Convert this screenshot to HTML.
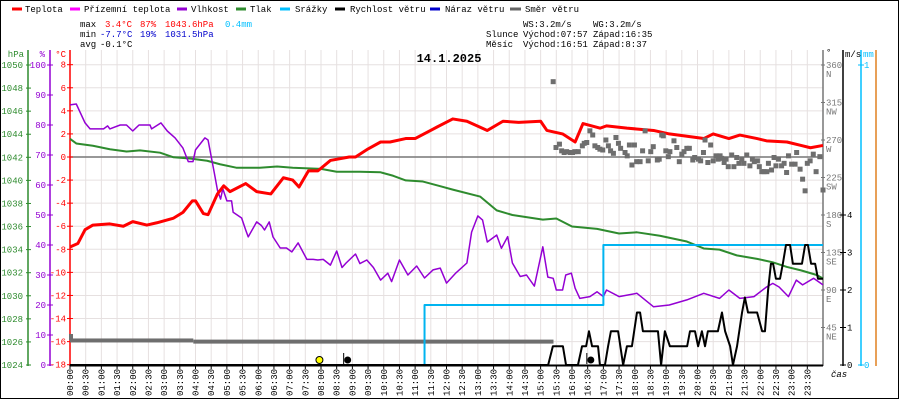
<!DOCTYPE html>
<html><head><meta charset="utf-8"><style>
html,body{margin:0;padding:0;background:#fff}
svg{display:block}
text{font-family:"Liberation Mono",monospace;font-size:9px}
</style></head><body>
<svg id="chart" width="900" height="400" viewBox="0 0 900 400" xmlns="http://www.w3.org/2000/svg">
<rect x="0.5" y="0.5" width="898" height="398" fill="#fff" stroke="#000"/>
<g id="grid"></g>
<g id="legend">
 <line x1="12" y1="9" x2="22" y2="9" stroke="#f00" stroke-width="3"/><text x="25" y="12">Teplota</text>
 <line x1="70" y1="9" x2="80" y2="9" stroke="#f0f" stroke-width="3"/><text x="84" y="12">Přízemní teplota</text>
 <line x1="177" y1="9" x2="187" y2="9" stroke="#9400d3" stroke-width="3"/><text x="191" y="12">Vlhkost</text>
 <line x1="236" y1="9" x2="246" y2="9" stroke="#2e8b2e" stroke-width="3"/><text x="250" y="12">Tlak</text>
 <line x1="280" y1="9" x2="290" y2="9" stroke="#00bfff" stroke-width="3"/><text x="295" y="12">Srážky</text>
 <line x1="335" y1="9" x2="345" y2="9" stroke="#000" stroke-width="3"/><text x="350" y="12">Rychlost větru</text>
 <line x1="430" y1="9" x2="440" y2="9" stroke="#00c" stroke-width="3"/><text x="445" y="12">Náraz větru</text>
 <line x1="510" y1="9" x2="521" y2="9" stroke="#666" stroke-width="3"/><text x="525" y="12">Směr větru</text>
</g>
<g id="stats">
 <text x="80" y="27">max</text><text x="105" y="27" fill="#f00">3.4°C</text><text x="140" y="27" fill="#f00">87%</text><text x="165" y="27" fill="#f00">1043.6hPa</text><text x="225" y="27" fill="#00bfff">0.4mm</text>
 <text x="80" y="37">min</text><text x="100" y="37" fill="#00c">-7.7°C</text><text x="140" y="37" fill="#00c">19%</text><text x="165" y="37" fill="#00c">1031.5hPa</text>
 <text x="80" y="47">avg</text><text x="100" y="47">-0.1°C</text>
 <text x="523" y="27">WS:3.2m/s</text><text x="593" y="27">WG:3.2m/s</text>
 <text x="486" y="37">Slunce</text><text x="523" y="37">Východ:07:57</text><text x="593" y="37">Západ:16:35</text>
 <text x="486" y="47">Měsíc</text><text x="523" y="47">Východ:16:51</text><text x="593" y="47">Západ:8:37</text>
</g>
<text x="449" y="62" text-anchor="middle" style="font-size:12px;font-weight:bold">14.1.2025</text>
<g id="axes"></g>
<g id="series"></g>
</svg>
<script>
// ---- data ----
const timeLabels=[];for(let i=0;i<48;i++){const h=Math.floor(i/2);timeLabels.push((h<10?'0':'')+h+(i%2?':30':':00'));}
const tempTicks=[8,6,4,2,0,-2,-4,-6,-8,-10,-12,-14,-16,-18];
const humTicks=[100,90,80,70,60,50,40,30,20,10,0];
const presTicks=[1050,1048,1046,1044,1042,1040,1038,1036,1034,1032,1030,1028,1026,1024];
const dirTicks=[360,315,270,225,180,135,90,45];
const dirNames=['N','NW','W','SW','S','SE','E','NE'];
const windTicks=[4,3,2,1,0];
const tempHours=[0,0.25,0.48,0.73,1.27,1.7,2.0,2.45,2.77,3.3,3.6,3.9,4.0,4.25,4.4,4.7,4.9,5.1,5.6,5.95,6.4,6.8,7.1,7.3,7.6,7.9,8.3,8.9,9.1,9.5,9.9,10.2,10.7,11.0,11.7,12.2,12.65,13.3,13.8,14.3,15.0,15.2,15.7,16.1,16.35,16.9,17.1,17.75,18.6,19.1,20.2,20.5,21.0,21.35,21.9,22.2,22.85,23.3,23.6,24];
const tempValues=[-7.8,-7.5,-6.3,-5.9,-5.8,-6.0,-5.6,-5.9,-5.7,-5.3,-4.8,-3.8,-3.8,-4.9,-5.0,-3.2,-2.5,-3.0,-2.3,-3.0,-3.2,-1.8,-2.0,-2.6,-1.2,-1.2,-0.3,0.0,0.0,0.7,1.3,1.3,1.6,1.6,2.6,3.3,3.1,2.3,3.1,3.0,3.1,2.3,2.0,1.3,2.9,2.5,2.7,2.5,2.3,2.0,1.6,2.0,1.6,1.9,1.6,1.4,1.3,1.0,0.8,1.0];
const humHours=[0,0.2,0.48,0.64,1.07,1.2,1.27,1.6,1.8,2.0,2.2,2.55,2.6,2.9,3.1,3.35,3.6,3.77,3.92,4.0,4.3,4.4,4.6,4.7,4.8,4.87,5.0,5.15,5.2,5.47,5.6,5.68,5.95,6.1,6.2,6.35,6.47,6.7,6.9,7.07,7.27,7.55,7.75,7.9,8.07,8.3,8.5,8.67,8.8,9.1,9.24,9.46,9.67,9.9,10.13,10.25,10.5,10.77,11.05,11.3,11.57,11.8,12.0,12.3,12.65,12.8,13.0,13.15,13.3,13.6,13.75,13.95,14.1,14.35,14.55,14.8,15.07,15.23,15.4,15.5,15.7,15.8,15.98,16.1,16.25,16.57,16.8,17.0,17.1,17.5,18.07,18.6,19.1,19.66,20.2,20.7,21.0,21.35,21.8,22.2,22.4,22.6,22.9,23.15,23.35,23.7,24];
const humValues=[86.7,87,80.7,78.7,78.7,79.7,78.7,80,80,78,80,80,78.7,80.7,78,75.7,72.3,67.8,67.8,71.7,75.7,75,64,58.3,55.3,58.8,54.7,54.7,50.9,49,45,42.7,47.7,46.5,45,47.7,42.7,39,39,37.7,40.7,35.2,35.2,35,35.2,33.3,38,32.5,34,37,33.8,35,32.5,28.3,30.6,27.8,35,30,33,29,31.7,32.3,27.3,30.7,34,44.3,49.7,48.3,41,43.3,38.9,42.8,34,29.5,30,26.3,39.4,29.3,28.9,25,25,30,30.6,25.6,22.2,22.8,24.4,22.8,25,22.8,23.9,19.4,20,21.7,23.9,22.2,25,22.2,22.8,26,27.2,26,22.8,28.3,26.7,28.9,26.7];
const presHours=[0,0.2,0.73,1.27,1.8,2.23,2.87,3.3,3.82,4.37,4.78,5.3,6.05,6.6,7.1,8.0,8.5,9.24,9.9,10.3,10.7,11.25,11.8,12.2,13.07,13.6,14.1,15.07,15.5,16.0,16.8,17.5,18.07,18.8,19.66,20.2,20.7,21.25,21.9,22.4,22.85,23.3,23.8,24];
const presValues=[1043.6,1043.2,1043.0,1042.7,1042.5,1042.6,1042.4,1042.0,1041.9,1041.7,1041.4,1041.1,1041.1,1041.2,1041.1,1041.0,1040.75,1040.75,1040.7,1040.4,1040.0,1039.9,1039.5,1039.2,1038.6,1037.4,1037.0,1036.6,1036.7,1036.0,1035.8,1035.4,1035.5,1035.2,1034.7,1034.1,1034.0,1033.5,1033.2,1032.9,1032.5,1032.2,1031.8,1031.5];
const rainHours=[0,11.3,17.0,24];
const rainValues=[0,0.2,0.4,0.4];
const windHours=[0,15.24,15.39,15.71,15.81,16.19,16.32,16.45,16.54,16.64,16.83,16.89,17.05,17.15,17.24,17.47,17.63,17.75,17.91,18.07,18.17,18.26,18.74,18.84,18.96,19.12,19.67,19.76,19.92,20.02,20.14,20.24,20.33,20.65,20.78,20.88,21.04,21.13,21.26,21.42,21.51,21.61,21.90,22.06,22.15,22.25,22.34,22.41,22.50,22.63,22.72,22.82,22.95,23.04,23.33,23.43,23.52,23.62,23.75,23.84,24];
const windValues=[0,0,0.5,0.5,0,0,0.5,0.5,0.9,0.5,0.5,0,0,0.5,0.9,0.9,0,0.5,0.5,1.4,1.4,0.9,0.9,0,0.9,0.5,0.5,0.9,0.9,0.5,0.9,0.5,0.9,0.9,1.4,0.9,0.5,0,0.5,1.4,1.8,1.4,1.4,0.9,0.9,2.0,2.7,2.7,2.3,2.3,2.7,3.2,3.2,2.7,2.7,3.2,3.2,2.7,2.7,2.3,2.3];
const dirHours=[15.40,15.49,15.60,15.67,15.75,15.83,15.94,16.02,16.09,16.20,16.33,16.39,16.47,16.57,16.66,16.73,16.82,16.89,16.98,17.08,17.16,17.23,17.32,17.40,17.48,17.55,17.69,17.76,17.83,17.91,17.99,18.06,18.17,18.25,18.33,18.43,18.51,18.59,18.72,18.78,18.86,18.91,18.99,19.07,19.12,19.25,19.34,19.42,19.50,19.57,19.66,19.74,19.85,19.91,20.03,20.10,20.19,20.24,20.33,20.42,20.50,20.59,20.66,20.72,20.77,20.85,20.91,20.98,21.09,21.16,21.25,21.32,21.41,21.48,21.57,21.67,21.75,21.81,21.91,21.97,22.05,22.12,22.21,22.26,22.36,22.44,22.50,22.58,22.68,22.76,22.84,22.90,23.00,23.11,23.16,23.27,23.35,23.43,23.50,23.59,23.69,23.78,23.90,24.0];
const dirValues=[340,261,265,257,255,256,255,255,256,256,263,266,267,281,276,263,261,259,258,270,263,257,254,273,266,260,255,251,264,240,264,244,244,257,281,245,256,262,246,247,276,275,257,250,256,269,261,244,253,256,260,260,246,249,247,245,255,270,243,264,245,251,247,251,248,243,247,238,252,238,249,242,247,242,252,239,247,244,245,238,232,232,232,242,234,249,239,247,239,242,231,251,241,241,255,235,223,209,242,245,253,232,250,210];
const calmStartHours=[0,3.93];
const calmEndHours=[3.93,15.41];
const calmLevels=[-15.9,-16.0];
const sunHours=[7.95];const moonHours=[8.85,16.6];

// ---- scales ----
const X0=70,X1=823;
const xs=h=>X0+h*(X1-X0)/24;
const yT=t=>157-t*300/26;
const yH=v=>365-v*3;
const yP=p=>65+(1050-p)*300/26;
const yD=d=>365-d*300/360;
const yW=v=>365-v*37.5;
const yR=m=>365-m*300;
const NS='http://www.w3.org/2000/svg';
function mk(tag,attrs,parent,txt){const e=document.createElementNS(NS,tag);for(const k in attrs)e.setAttribute(k,attrs[k]);if(txt!==undefined)e.textContent=txt;parent.appendChild(e);return e;}
const grid=document.getElementById('grid'),axes=document.getElementById('axes'),series=document.getElementById('series');

// grid
for(let i=0;i<=48;i++){const x=xs(i/2);const l=mk('line',{x1:x,y1:50,x2:x,y2:365,stroke:'#e6e0e0'},grid);

}
tempTicks.forEach(t=>{const l=mk('line',{x1:X0,y1:yT(t),x2:X1,y2:yT(t),stroke:'#e6e0e0'},grid);

});
const zl=mk('line',{x1:X0,y1:yT(0),x2:X1,y2:yT(0),stroke:'#777','stroke-width':1.5},grid);



// axes
function vaxis(x,color,name){const l=mk('line',{x1:x,y1:50,x2:x,y2:366,stroke:color,'stroke-width':1.5},axes);

}
vaxis(28,'#2e8b2e','pressure-axis');vaxis(50,'#9400d3','humidity-axis');vaxis(70,'#f00','temperature-axis');
vaxis(823,'#777','direction-axis');vaxis(843,'#000','wind-speed-axis');vaxis(861,'#00bfff','rain-axis');vaxis(876,'#e08020','extra-axis');
mk('text',{x:24,y:57,fill:'#2e8b2e','text-anchor':'end'},axes,'hPa');
mk('text',{x:45,y:57,fill:'#9400d3','text-anchor':'end'},axes,'%');
mk('text',{x:66,y:57,fill:'#f00','text-anchor':'end'},axes,'°C');
mk('text',{x:826,y:55},axes,'°');
mk('text',{x:845,y:57},axes,'m/s');
mk('text',{x:863,y:57,fill:'#00bfff'},axes,'mm');
presTicks.forEach(p=>{const y=yP(p);mk('line',{x1:26,y1:y,x2:31,y2:y,stroke:'#2e8b2e'},axes);
const t=mk('text',{x:23,y:y+3,fill:'#2e8b2e','text-anchor':'end'},axes,p);

});
humTicks.forEach(v=>{const y=yH(v);mk('line',{x1:47,y1:y,x2:53,y2:y,stroke:'#9400d3'},axes);
const t=mk('text',{x:46,y:y+3,fill:'#9400d3','text-anchor':'end'},axes,v);

});
tempTicks.forEach(v=>{const y=yT(v);mk('line',{x1:67,y1:y,x2:73,y2:y,stroke:'#f00'},axes);
const t=mk('text',{x:66,y:y+3,fill:'#f00','text-anchor':'end'},axes,v);

});
dirTicks.forEach((d,i)=>{const y=yD(d);mk('line',{x1:821,y1:y,x2:825,y2:y,stroke:'#777'},axes);
const t=mk('text',{x:826,y:y+3,fill:'#777'},axes,d);


mk('text',{x:826,y:y+12,fill:'#777'},axes,dirNames[i]);});
windTicks.forEach(v=>{const y=yW(v);mk('line',{x1:840,y1:y,x2:846,y2:y,stroke:'#000'},axes);
const t=mk('text',{x:847,y:y+3},axes,v);

});
[1,0].forEach(v=>{const y=yR(v);mk('line',{x1:858,y1:y,x2:864,y2:y,stroke:'#00bfff'},axes);mk('text',{x:864,y:y+3,fill:'#00bfff'},axes,v);});
const xa=mk('line',{x1:70,y1:365.5,x2:823,y2:365.5,stroke:'#000','stroke-width':2},axes);


timeLabels.forEach((s,i)=>{const x=xs(i/2);mk('line',{x1:x,y1:365,x2:x,y2:369,stroke:'#000'},axes);
const t=mk('text',{x:0,y:0,transform:`translate(${x+3},396) rotate(-90)`},axes,s);

});
mk('text',{x:831,y:377,'font-style':'italic'},axes,'čas');

// series
function pline(hs,vs,yf,color,w,name,step){let pts=[];hs.forEach((h,i)=>{if(step&&i>0)pts.push(xs(h)+','+yf(vs[i-1]));pts.push(xs(h)+','+yf(vs[i]));});
const p=mk('polyline',{points:pts.join(' '),fill:'none',stroke:color,'stroke-width':w,'stroke-linejoin':'round'},series);

}
calmStartHours.forEach((h,i)=>{const r=mk('rect',{x:xs(h),y:yT(calmLevels[i])-2,width:xs(calmEndHours[i])-xs(h),height:4,fill:'#6e6e6e'},series);

});
mk('rect',{x:69,y:334,width:4,height:6,fill:'#6e6e6e'},series);
pline(presHours,presValues,yP,'#2e8b2e',2,'pressure-line');
pline(humHours,humValues,yH,'#9400d3',1.5,'humidity-line');
pline(rainHours,rainValues,yR,'#00b4f0',2,'rain-line',true);
pline(windHours,windValues,yW,'#000',2,'wind-speed-line');
pline(tempHours,tempValues,yT,'#f00',3,'temperature-line');
dirHours.forEach((h,i)=>{const r=mk('rect',{x:xs(h)-2.5,y:yD(dirValues[i])-2.5,width:5,height:5,fill:'#6e6e6e'},series);

});
sunHours.forEach(h=>{const c=mk('circle',{cx:xs(h),cy:360,r:3.5,fill:'#ff0',stroke:'#000'},series);

});
moonHours.forEach(h=>{const c=mk('circle',{cx:xs(h),cy:360,r:3.5,fill:'#000'},series);


mk('line',{x1:xs(h)-4,y1:353,x2:xs(h)-4,y2:364,stroke:'#000'},series);});
</script>
</body></html>
